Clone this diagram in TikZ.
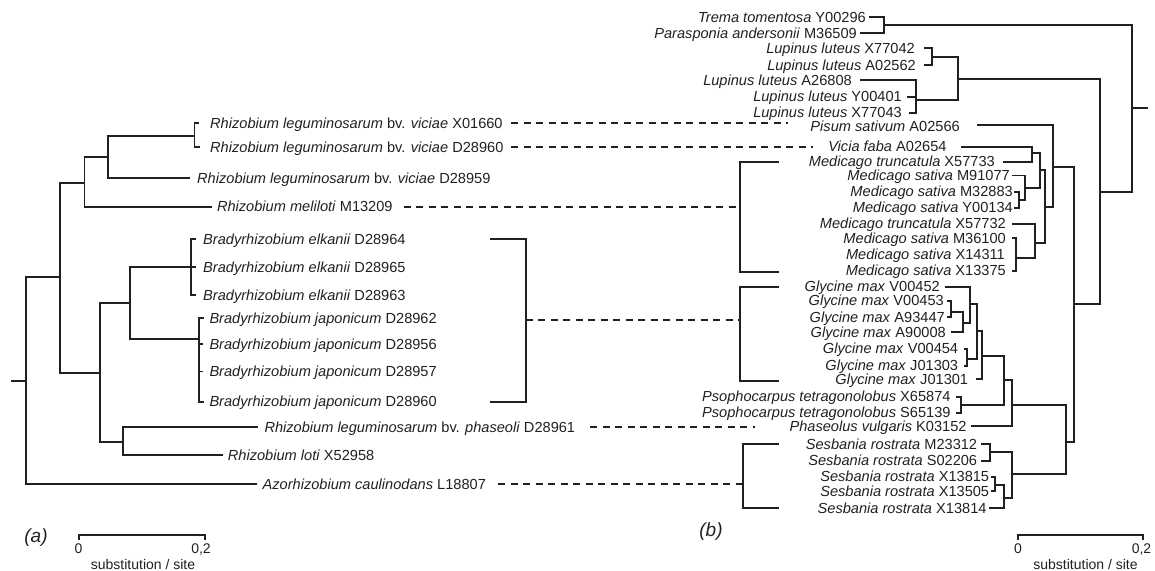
\documentclass[tikz,border=0pt]{standalone}
\usepackage{fontspec}
\setmainfont{Liberation Sans}
\definecolor{ink}{HTML}{231F20}
\newcommand\lfont{\fontsize{14.6}{16}\selectfont}
\newcommand\sfont{\fontsize{14}{16}\selectfont}
\newcommand\pfont{\fontsize{19}{22}\selectfont\itshape}
\begin{document}
\begin{tikzpicture}[x=1pt,y=-1pt,
  br/.style={line width=1.7pt,draw=ink,line cap=rect,line join=miter},
  dsh/.style={line width=1.7pt,draw=ink,dash pattern=on 7pt off 5.5pt},
  lfL/.style={anchor=base west,inner sep=0pt,yshift=-5.2pt,font=\lfont,text=ink},
  lfR/.style={anchor=base east,inner sep=0pt,yshift=-5.2pt,font=\lfont,text=ink},
  scl/.style={anchor=base,inner sep=0pt,font=\sfont,text=ink},
  pan/.style={inner sep=0pt,font=\pfont,text=ink}]
\useasboundingbox (0,0) rectangle (1155,570);
% ---------------- left labels
\node[lfL] (a1) at (210,123.3) {\textit{Rhizobium leguminosarum} bv. \textit{viciae} X01660};
\node[lfL] (a2) at (210,147.3) {\textit{Rhizobium leguminosarum} bv. \textit{viciae} D28960};
\node[lfL] (a3) at (197,178.3) {\textit{Rhizobium leguminosarum} bv. \textit{viciae} D28959};
\node[lfL] (a4) at (216.8,206.7) {\textit{Rhizobium meliloti} M13209};
\node[lfL] (a5) at (203,239.3) {\textit{Bradyrhizobium elkanii} D28964};
\node[lfL] (a6) at (203,267.3) {\textit{Bradyrhizobium elkanii} D28965};
\node[lfL] (a7) at (203,295) {\textit{Bradyrhizobium elkanii} D28963};
\node[lfL] (a8) at (209.3,318) {\textit{Bradyrhizobium japonicum} D28962};
\node[lfL] (a9) at (209.3,344) {\textit{Bradyrhizobium japonicum} D28956};
\node[lfL] (a10) at (209.3,371.5) {\textit{Bradyrhizobium japonicum} D28957};
\node[lfL] (a11) at (209.3,401.7) {\textit{Bradyrhizobium japonicum} D28960};
\node[lfL] (a12) at (264.3,427) {\textit{Rhizobium leguminosarum} bv. \textit{phaseoli} D28961};
\node[lfL] (a13) at (227.7,455) {\textit{Rhizobium loti} X52958};
\node[lfL] (a14) at (262.5,484) {\textit{Azorhizobium caulinodans} L18807};
% ---------------- left tree
\draw[br] (12,380.7)--(25.7,380.7);
\draw[br] (25.7,277.3)--(25.7,484) (25.7,277.3)--(60,277.3) (25.7,484)--(256.4,484);
\draw[br] (60,182.7)--(60,372.7) (60,182.7)--(84.6,182.7);
\draw[br] (84.6,156.7)--(84.6,206.7) (84.6,156.7)--(108,156.7) (84.6,206.7)--(210.7,206.7);
\draw[br] (108,135.7)--(108,178.3) (108,135.7)--(194.6,135.7) (108,178.3)--(189.3,178.3);
\draw[br] (194.6,123.3)--(194.6,147.3) (194.6,123.3)--(198.5,123.3) (194.6,147.3)--(199.5,147.3);
\draw[br] (60,372.7)--(100,372.7) (100,303.3)--(100,441.7);
\draw[br] (100,303.3)--(130,303.3) (130,267.3)--(130,339.3);
\draw[br] (130,267.3)--(190.7,267.3) (190.7,239.3)--(190.7,295)
  (190.7,239.3)--(195,239.3) (190.7,267.3)--(195,267.3) (190.7,295)--(195,295);
\draw[br] (130,339.3)--(199,339.3) (199,318)--(199,401.7)
  (199,318)--(203,318) (199,344)--(202,344) (199,371.5)--(202,371.5) (199,401.7)--(203,401.7);
\draw[br] (100,441.7)--(123.3,441.7) (123.3,427)--(123.3,455)
  (123.3,427)--(256.7,427) (123.3,455)--(221.7,455);
% ---------------- right labels
\node[lfR] (r1) at (866,17) {\textit{Trema tomentosa} Y00296};
\node[lfR] (r2) at (857,33) {\textit{Parasponia andersonii} M36509};
\node[lfR] (r3) at (915,48.3) {\textit{Lupinus luteus} X77042};
\node[lfR] (r4) at (916,65) {\textit{Lupinus luteus} A02562};
\node[lfR] (r5) at (852,80) {\textit{Lupinus luteus} A26808};
\node[lfR] (r6) at (902,96.7) {\textit{Lupinus luteus} Y00401};
\node[lfR] (r7) at (902,112.7) {\textit{Lupinus luteus} X77043};
\node[lfR] (r8) at (960,126) {\textit{Pisum sativum} A02566};
\node[lfR] (r9) at (946.7,146.5) {\textit{Vicia faba} A02654};
\node[lfR] (r10) at (995,161.2) {\textit{Medicago truncatula} X57733};
\node[lfR] (r11) at (1010,175.5) {\textit{Medicago sativa} M91077};
\node[lfR] (r12) at (1013,191.2) {\textit{Medicago sativa} M32883};
\node[lfR] (r13) at (1013,207) {\textit{Medicago sativa} Y00134};
\node[lfR] (r14) at (1006,223) {\textit{Medicago truncatula} X57732};
\node[lfR] (r15) at (1006,238.3) {\textit{Medicago sativa} M36100};
\node[lfR] (r16) at (1005,254) {\textit{Medicago sativa} X14311};
\node[lfR] (r17) at (1006,270.5) {\textit{Medicago sativa} X13375};
\node[lfR] (r18) at (940,286.3) {\textit{Glycine max} V00452};
\node[lfR] (r19) at (944,300) {\textit{Glycine max} V00453};
\node[lfR] (r20) at (945,316.8) {\textit{Glycine max} A93447};
\node[lfR] (r21) at (946,332.3) {\textit{Glycine max} A90008};
\node[lfR] (r22) at (958.3,348.6) {\textit{Glycine max} V00454};
\node[lfR] (r23) at (958.3,365.3) {\textit{Glycine max} J01303};
\node[lfR] (r24) at (968.3,379.5) {\textit{Glycine max} J01301};
\node[lfR] (r25) at (950.7,396.7) {\textit{Psophocarpus tetragonolobus} X65874};
\node[lfR] (r26) at (950.7,412) {\textit{Psophocarpus tetragonolobus} S65139};
\node[lfR] (r27) at (966.7,426) {\textit{Phaseolus vulgaris} K03152};
\node[lfR] (r28) at (977.3,444) {\textit{Sesbania rostrata} M23312};
\node[lfR] (r29) at (977.3,460.5) {\textit{Sesbania rostrata} S02206};
\node[lfR] (r30) at (989.3,476.7) {\textit{Sesbania rostrata} X13815};
\node[lfR] (r31) at (989.3,491.3) {\textit{Sesbania rostrata} X13505};
\node[lfR] (r32) at (986.7,508.7) {\textit{Sesbania rostrata} X13814};
% ---------------- right tree
\draw[br] (870,17)--(884.3,17) (861,33)--(884.3,33) (884.3,17)--(884.3,33) (884.3,25)--(1132,25);
\draw[br] (925,48.3)--(932,48.3) (925,65)--(932,65) (932,48.3)--(932,65) (932,57)--(958.3,57);
\draw[br] (861,80)--(916,80) (908,96.7)--(916,96.7) (910,112.7)--(916,112.7) (916,80)--(916,112.7) (916,100)--(958.3,100);
\draw[br] (958.3,57)--(958.3,100) (958.3,79.3)--(1100,79.3);
\draw[br] (977.7,125)--(1052.7,125);
\draw[br] (961.7,147)--(1031.7,147) (1004,161.7)--(1031.7,161.7) (1031.7,147)--(1031.7,161.7) (1031.7,153.3)--(1040,153.3);
\draw[br] (1013.3,175.5)--(1025,175.5) (1015,191.7)--(1019.3,191.7) (1015,208)--(1019.3,208)
  (1019.3,191.7)--(1019.3,208) (1019.3,200)--(1025,200) (1025,175.5)--(1025,200) (1025,187.7)--(1040,187.7)
  (1040,153.3)--(1040,187.7) (1040,170)--(1045,170);
\draw[br] (1013.3,224)--(1035,224) (1013,238.3)--(1016,238.3) (1013,271)--(1016,271) (1016,238.3)--(1016,271)
  (1016,258.3)--(1035,258.3) (1035,224)--(1035,258.3) (1035,243.3)--(1045,243.3)
  (1045,170)--(1045,243.3) (1045,206.7)--(1052.7,206.7) (1052.7,125)--(1052.7,206.7) (1052.7,167.3)--(1074.3,167.3);
\draw[br] (946,286.7)--(970,286.7) (948.3,300.7)--(951,300.7) (948.3,317.3)--(951,317.3) (951,300.7)--(951,317.3)
  (951,311.7)--(963.3,311.7) (951.7,332.3)--(963.3,332.3) (963.3,311.7)--(963.3,332.3) (963.3,322.7)--(970,322.7)
  (970,286.7)--(970,322.7) (970,304)--(976.7,304);
\draw[br] (965,349)--(967.3,349) (965,366)--(967.3,366) (967.3,349)--(967.3,366) (967.3,359)--(976.7,359)
  (976.7,304)--(976.7,359) (976.7,330.7)--(981.7,330.7)
  (976.7,379.3)--(981.7,379.3) (981.7,330.7)--(981.7,379.3) (981.7,356)--(1004,356);
\draw[br] (957.3,396.7)--(961,396.7) (957.3,413)--(961,413) (961,396.7)--(961,413) (961,405)--(1004,405)
  (1004,356)--(1004,405) (1004,380)--(1011.7,380)
  (971.7,425.7)--(1011.7,425.7) (1011.7,380)--(1011.7,425.7) (1011.7,405)--(1065.7,405);
\draw[br] (981.7,444)--(990,444) (981.7,460.7)--(990,460.7) (990,444)--(990,460.7) (990,451.7)--(1011.7,451.7)
  (991.7,476.7)--(995,476.7) (991.7,491)--(995,491) (995,476.7)--(995,491) (995,485)--(1004,485)
  (990,508.3)--(1004,508.3) (1004,485)--(1004,508.3) (1004,497.7)--(1011.7,497.7)
  (1011.7,451.7)--(1011.7,497.7) (1011.7,474.3)--(1065.7,474.3);
\draw[br] (1065.7,405)--(1065.7,474.3) (1065.7,441.7)--(1074.3,441.7) (1074.3,167.3)--(1074.3,441.7)
  (1074.3,304)--(1100,304) (1100,79.3)--(1100,304) (1100,191.7)--(1132,191.7)
  (1132,25)--(1132,191.7) (1132,107.7)--(1147,107.7);
% ---------------- brackets
\coordinate (bLt) at (491,239.3); \coordinate (bLb) at (491,401.7);
\coordinate (bMt) at (778.5,161.7); \coordinate (bMb) at (778.5,271.7);
\coordinate (bGt) at (778.5,287.3); \coordinate (bGb) at (778.5,381);
\coordinate (bSt) at (778.3,444); \coordinate (bSb) at (778.3,508.3);
\draw[br] (bLt) -- ++(34.7,0) |- (bLb);
\draw[br] (bMt) -- ++(-38.5,0) |- (bMb);
\draw[br] (bGt) -- ++(-38.5,0) |- (bGb);
\draw[br] (bSt) -- ++(-35.6,0) |- (bSb);
% ---------------- dashed links
\coordinate (d1a) at (511,123.3);   \coordinate (d1b) at (788.3,123.3);
\coordinate (d2a) at (511,147.3);   \coordinate (d2b) at (813.3,147.3);
\coordinate (d3a) at (403.6,206.7); \coordinate (d3b) at (740,206.7);
\coordinate (d4a) at (525.7,320.3); \coordinate (d4b) at (740,320.3);
\coordinate (d5a) at (590,427);     \coordinate (d5b) at (755,427);
\coordinate (d6a) at (498,484);     \coordinate (d6b) at (742.7,484);
\draw[dsh] (d1a)--(d1b);
\draw[dsh] (d2a)--(d2b);
\draw[dsh] (d3a)--(d3b);
\draw[dsh] (d4a)--(d4b);
\draw[dsh] (d5a)--(d5b);
\draw[dsh] (d6a)--(d6b);
% ---------------- scale bars and panel labels
\draw[br] (79,539)--(79,535)--(205,535)--(205,539);
\draw[br] (1018,539)--(1018,535)--(1143,535)--(1143,539);
\node[scl] (s0a) at (78.5,553) {0};
\node[scl] (s2a) at (201,553) {0,2};
\node[scl] (ssa) at (143,569) {substitution / site};
\node[scl] (s0b) at (1018,553) {0};
\node[scl] (s2b) at (1141.5,553) {0,2};
\node[scl] (ssb) at (1085.5,569) {substitution / site};
\node[pan] (pa) at (36,538) {(a)};
\node[pan] (pb) at (711,532) {(b)};
\end{tikzpicture}
\end{document}
